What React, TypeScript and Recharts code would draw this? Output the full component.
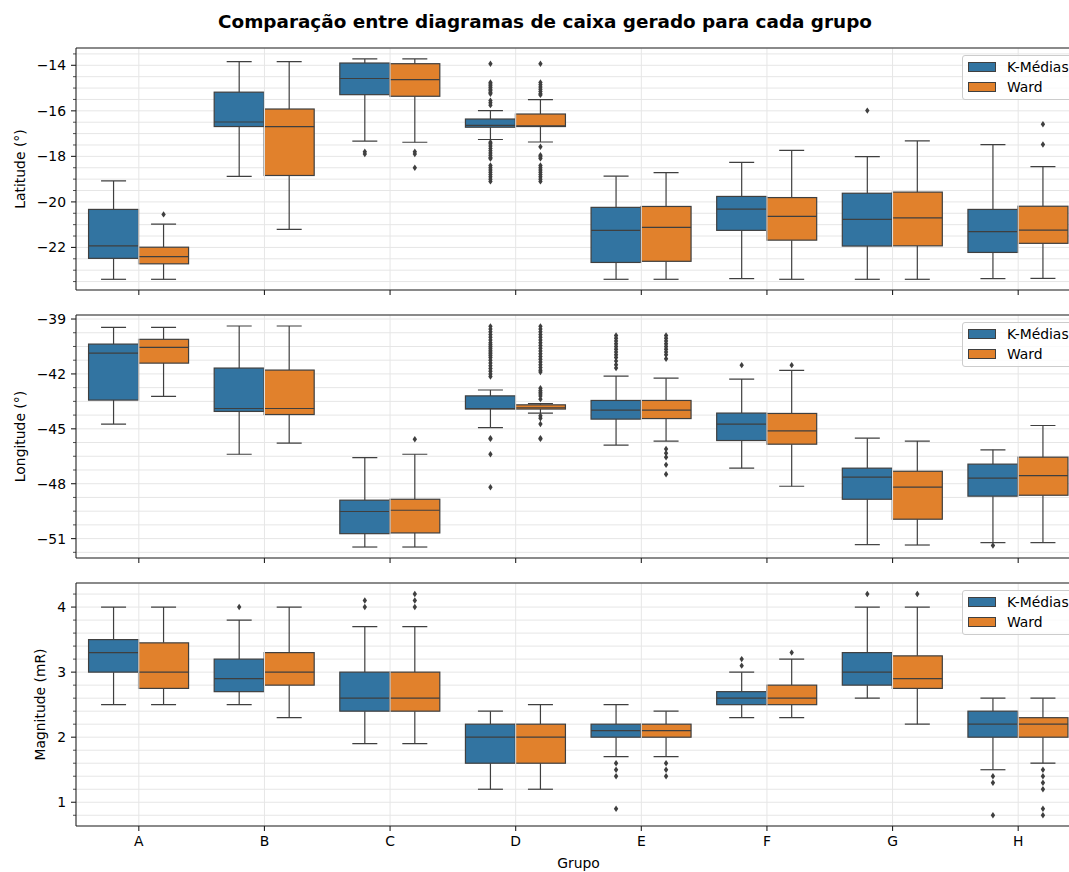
import React from "react";
import { BarChart, Bar, XAxis, YAxis, CartesianGrid, Legend, ReferenceLine } from "recharts";

const grupos = ["A", "B", "C", "D", "E", "F", "G", "H"];

// cada caixa: [bigode inferior, Q1, mediana, Q3, bigode superior]
const latKMedias = [
  [-23.4, -22.48, -21.93, -20.33, -19.08],
  [-18.88, -16.69, -16.49, -15.18, -13.84],
  [-17.33, -15.29, -14.58, -13.9, -13.72],
  [-17.26, -16.72, -16.64, -16.36, -15.99],
  [-23.4, -22.66, -21.25, -20.24, -18.87],
  [-23.37, -21.25, -20.32, -19.76, -18.26],
  [-23.4, -21.94, -20.77, -19.62, -18.01],
  [-23.37, -22.22, -21.31, -20.33, -17.48],
];
const latWard = [
  [-23.4, -22.72, -22.4, -21.99, -20.98],
  [-21.21, -18.84, -16.69, -15.92, -13.84],
  [-17.38, -15.36, -14.63, -13.93, -13.72],
  [-17.37, -16.69, -16.66, -16.14, -15.51],
  [-23.4, -22.61, -21.12, -20.2, -18.71],
  [-23.4, -21.68, -20.64, -19.81, -17.74],
  [-23.4, -21.93, -20.7, -19.57, -17.32],
  [-23.36, -21.82, -21.24, -20.19, -18.45],
];
const latKMediasOut = [
  [],
  [],
  [-17.8, -17.9],
  [-13.93, -14.75, -14.82, -14.9, -14.97, -15.05, -15.12, -15.2, -15.25, -15.55, -15.65, -15.75,
    -17.38, -17.45, -17.55, -17.65, -17.75, -17.85, -17.95, -18.05, -18.1, -18.4, -18.5, -18.6, -18.7, -18.8, -18.9, -19.0, -19.1],
  [],
  [],
  [-15.99],
  [],
];
const latWardOut = [
  [-20.55],
  [],
  [-17.8, -17.9, -18.5],
  [-13.93, -14.75, -14.85, -14.95, -15.05, -15.15, -15.25, -15.3,
    -17.58, -17.95, -18.02, -18.09, -18.4, -18.5, -18.6, -18.7, -18.8, -18.9, -19.0, -19.1],
  [],
  [],
  [],
  [-16.59, -17.48],
];

const lonKMedias = [
  [-44.74, -43.43, -40.86, -40.37, -39.46],
  [-46.39, -44.05, -43.89, -41.68, -39.38],
  [-51.46, -50.73, -49.52, -48.9, -46.57],
  [-44.93, -43.92, -43.89, -43.2, -42.88],
  [-45.89, -44.47, -43.98, -43.45, -42.12],
  [-47.15, -45.64, -44.74, -44.14, -42.28],
  [-51.33, -48.85, -47.64, -47.15, -45.51],
  [-51.22, -48.68, -47.7, -46.93, -46.15],
];
const lonWard = [
  [-43.23, -41.41, -40.55, -40.11, -39.46],
  [-45.78, -44.22, -43.89, -41.79, -39.38],
  [-51.46, -50.69, -49.45, -48.85, -46.39],
  [-44.14, -43.92, -43.85, -43.69, -43.62],
  [-45.67, -44.44, -43.98, -43.45, -42.23],
  [-48.14, -45.84, -45.11, -44.16, -41.81],
  [-51.35, -49.94, -48.19, -47.32, -45.67],
  [-51.22, -48.63, -47.56, -46.55, -44.82],
];
const lonKMediasOut = [
  [],
  [],
  [],
  [-39.4, -39.55, -39.7, -39.85, -40.0, -40.15, -40.3, -40.4, -40.5, -40.6, -40.7, -40.8, -40.9, -41.0, -41.1,
    -41.25, -41.4, -41.55, -41.7, -41.85, -42.0, -42.14, -45.51, -45.55, -46.39, -48.19],
  [-39.9, -40.05, -40.2, -40.35, -40.5, -40.65, -40.8, -40.95, -41.1, -41.3, -41.5, -41.68],
  [-41.52],
  [],
  [-51.38],
];
const lonWardOut = [
  [],
  [],
  [-45.57],
  [-39.4, -39.55, -39.7, -39.85, -40.0, -40.15, -40.3, -40.45, -40.6, -40.75, -40.9, -41.05, -41.2, -41.35,
    -41.5, -41.65, -41.8, -41.9, -42.78, -42.9, -43.0, -43.1, -43.2, -43.38, -44.29, -44.42, -44.74, -45.51, -45.55],
  [-39.9, -40.05, -40.2, -40.35, -40.5, -40.65, -40.8, -40.95, -41.17, -46.1, -46.33, -46.55, -46.97, -47.48],
  [-41.52],
  [],
  [],
];

const magKMedias = [
  [2.5, 3.0, 3.3, 3.5, 4.0],
  [2.5, 2.7, 2.9, 3.2, 3.8],
  [1.9, 2.4, 2.6, 3.0, 3.7],
  [1.2, 1.6, 2.0, 2.2, 2.4],
  [1.7, 2.0, 2.1, 2.2, 2.5],
  [2.3, 2.5, 2.6, 2.7, 3.0],
  [2.6, 2.8, 3.0, 3.3, 4.0],
  [1.5, 2.0, 2.2, 2.4, 2.6],
];
const magWard = [
  [2.5, 2.75, 3.0, 3.45, 4.0],
  [2.3, 2.8, 3.0, 3.3, 4.0],
  [1.9, 2.4, 2.6, 3.0, 3.7],
  [1.2, 1.6, 2.0, 2.2, 2.5],
  [1.7, 2.0, 2.1, 2.2, 2.4],
  [2.3, 2.5, 2.6, 2.8, 3.2],
  [2.2, 2.75, 2.9, 3.25, 4.0],
  [1.6, 2.0, 2.2, 2.3, 2.6],
];
const magKMediasOut = [[], [4.0], [4.0, 4.1], [], [1.6, 1.5, 1.4, 0.9], [3.1, 3.2], [4.2], [1.4, 1.3, 0.8]];
const magWardOut = [[], [], [4.0, 4.1, 4.2], [], [1.6, 1.5, 1.4], [3.3], [4.2], [1.5, 1.4, 1.3, 1.2, 0.9, 0.8]];

// marcas do eixo y (secundárias incluídas) e rótulos principais
const latTicks = [-23.5, -23, -22.5, -22, -21.5, -21, -20.5, -20, -19.5, -19, -18.5, -18, -17.5, -17, -16.5, -16,
  -15.5, -15, -14.5, -14, -13.5];
const latPrincipais = [-22, -20, -18, -16, -14];
const lonTicks = [-51.75, -51, -50.25, -49.5, -48.75, -48, -47.25, -46.5, -45.75, -45, -44.25, -43.5, -42.75, -42,
  -41.25, -40.5, -39.75, -39];
const lonPrincipais = [-51, -48, -45, -42, -39];
const magTicks = [0.8, 1, 1.2, 1.4, 1.6, 1.8, 2, 2.2, 2.4, 2.6, 2.8, 3, 3.2, 3.4, 3.6, 3.8, 4, 4.2];
const magPrincipais = [1, 2, 3, 4];

const FONTE = "DejaVu Sans, Verdana, sans-serif";
const AZUL = "#3274a1";
const LARANJA = "#e1812c";
const LINHA = "#3f3f3f";
const EIXO = "#222222";
const GRADE = "#e6e6e6";

const paineis = [
  { rotulo: "Latitude (°)", rotuloX: 20, topo: 48, base: 290, dominio: [-23.87, -13.24],
    ticks: latTicks, principais: latPrincipais, km: latKMedias, ward: latWard, kmOut: latKMediasOut, wardOut: latWardOut },
  { rotulo: "Longitude (°)", rotuloX: 20, topo: 315, base: 558, dominio: [-52.06, -38.78],
    ticks: lonTicks, principais: lonPrincipais, km: lonKMedias, ward: lonWard, kmOut: lonKMediasOut, wardOut: lonWardOut },
  { rotulo: "Magnitude (mR)", rotuloX: 40, topo: 583, base: 826, dominio: [0.635, 4.37],
    ticks: magTicks, principais: magPrincipais, km: magKMedias, ward: magWard, kmOut: magKMediasOut, wardOut: magWardOut },
];

const fmt = (v: number) => (v < 0 ? "\u2212" + Math.abs(v) : String(v));

function Caixa(props: any) {
  const { x, y, width, height, stats, outliers, fill } = props;
  const [lo, q1, med, q3, hi] = stats;
  const topo = Math.min(y, y + height);
  const h = Math.abs(height);
  const toY = (v: number) => topo + (h * (hi - v)) / (hi - lo);
  const cx = x + width / 2;
  const cap = width / 4;
  const ls = { stroke: LINHA, strokeWidth: 1.2 };
  return (
    <g>
      <line x1={cx} x2={cx} y1={toY(hi)} y2={toY(q3)} {...ls} />
      <line x1={cx} x2={cx} y1={toY(q1)} y2={toY(lo)} {...ls} />
      <line x1={cx - cap} x2={cx + cap} y1={toY(hi)} y2={toY(hi)} {...ls} />
      <line x1={cx - cap} x2={cx + cap} y1={toY(lo)} y2={toY(lo)} {...ls} />
      <rect x={x} y={toY(q3)} width={width} height={toY(q1) - toY(q3)} fill={fill} {...ls} />
      <line x1={x} x2={x + width} y1={toY(med)} y2={toY(med)} {...ls} />
      {outliers.map((v: number, i: number) => {
        const oy = toY(v);
        return (
          <path key={i} d={`M${cx},${oy - 3.2}L${cx + 2.2},${oy}L${cx},${oy + 3.2}L${cx - 2.2},${oy}Z`} fill={LINHA} />
        );
      })}
    </g>
  );
}

function MarcaY(props: any) {
  const { x, y, payload, principais } = props;
  const principal = principais.some((p: number) => Math.abs(p - payload.value) < 1e-6);
  return (
    <g>
      <line x1={x} x2={x - (principal ? 5 : 3)} y1={y} y2={y} stroke={EIXO} strokeWidth={principal ? 1.1 : 0.8} />
      {principal && (
        <text x={x - 10} y={y} textAnchor="end" dominantBaseline="central" fontFamily={FONTE} fontSize={13.9} fill="#000">
          {fmt(payload.value)}
        </text>
      )}
    </g>
  );
}

function Legenda(props: any) {
  const itens = (props.payload || []).map((e: any) => [e.value, e.color]);
  return (
    <div
      style={{
        border: "1px solid #cccccc",
        borderRadius: 3,
        background: "rgba(255,255,255,0.8)",
        padding: "1px 6px 2px 5px",
        width: 124,
        boxSizing: "border-box",
        fontFamily: FONTE,
        fontSize: 13.9,
        color: "#000",
      }}
    >
      {itens.map(([nome, cor]: any) => (
        <div key={nome} style={{ display: "flex", alignItems: "center", height: 20 }}>
          <span
            style={{ width: 28, height: 10, background: cor, border: `1px solid ${LINHA}`, boxSizing: "border-box", marginRight: 11 }}
          />
          <span>{nome}</span>
        </div>
      ))}
    </div>
  );
}

function Painel({ p, ultimo }: any) {
  const dados = grupos.map((g, i) => ({
    grupo: g,
    km: p.km[i],
    ward: p.ward[i],
    kmOut: p.kmOut[i],
    wardOut: p.wardOut[i],
  }));
  const mb = ultimo ? 20 : 10;
  const altura = p.base - p.topo + 10 + 30 + mb;
  return (
    <div style={{ position: "absolute", left: 0, top: p.topo - 10 }}>
      <BarChart
        width={1085}
        height={altura}
        data={dados}
        margin={{ top: 10, right: 4, left: 0, bottom: mb }}
        barCategoryGap="10%"
        barGap={0}
      >
        <CartesianGrid stroke={GRADE} strokeWidth={1} vertical={false} />
        {grupos.map((g) => (
          <ReferenceLine key={g} x={g} stroke={GRADE} strokeWidth={1} />
        ))}
        <XAxis
          dataKey="grupo"
          type="category"
          height={30}
          tickSize={5}
          tickMargin={5}
          tickLine={{ stroke: EIXO, strokeWidth: 1.1 }}
          axisLine={{ stroke: EIXO, strokeWidth: 1.1 }}
          tick={ultimo ? { fontFamily: FONTE, fontSize: 13.9, fill: "#000" } : () => <g />}
          label={
            ultimo
              ? (lp: any) => {
                  const vb = lp.viewBox || {};
                  return (
                    <text x={(vb.x ?? 76) + (vb.width ?? 1005) / 2} y={(vb.y ?? 826) + 37} textAnchor="middle"
                      dominantBaseline="central" fontFamily={FONTE} fontSize={13.9} fill="#000">
                      Grupo
                    </text>
                  );
                }
              : undefined
          }
        />
        <YAxis
          type="number"
          domain={p.dominio}
          ticks={p.ticks}
          interval={0}
          allowDataOverflow
          width={76}
          tickSize={0}
          tickMargin={0}
          tickLine={false}
          axisLine={{ stroke: EIXO, strokeWidth: 1.1 }}
          tick={(tp: any) => <MarcaY {...tp} principais={p.principais} />}
          label={(lp: any) => {
            const vb = lp.viewBox || {};
            const cy = (vb.y ?? 10) + (vb.height ?? 0) / 2;
            return (
              <text x={p.rotuloX} y={cy} transform={`rotate(-90 ${p.rotuloX} ${cy})`} textAnchor="middle"
                dominantBaseline="central" fontFamily={FONTE} fontSize={13.9} fill="#000">
                {p.rotulo}
              </text>
            );
          }}
        />
        <ReferenceLine y={p.dominio[1]} stroke={EIXO} strokeWidth={1.1} />
        <Bar
          name="K-Médias"
          dataKey={(r: any) => [r.km[0], r.km[4]]}
          fill={AZUL}
          isAnimationActive={false}
          shape={(bp: any) => <Caixa {...bp} stats={bp.payload.km} outliers={bp.payload.kmOut} fill={AZUL} />}
        />
        <Bar
          name="Ward"
          dataKey={(r: any) => [r.ward[0], r.ward[4]]}
          fill={LARANJA}
          isAnimationActive={false}
          shape={(bp: any) => <Caixa {...bp} stats={bp.payload.ward} outliers={bp.payload.wardOut} fill={LARANJA} />}
        />
        <Legend
          layout="horizontal"
          verticalAlign="middle"
          align="center"
          wrapperStyle={{ top: 17, left: 962 }}
          content={(lp: any) => <Legenda {...lp} />}
        />
      </BarChart>
    </div>
  );
}

export default function App() {
  return (
    <div
      style={{ position: "absolute", left: 0, top: 0, width: 1069, height: 872, overflow: "hidden", background: "#fff" }}
    >
      <div
        style={{
          position: "absolute",
          left: 545 - 400,
          width: 800,
          top: 11,
          textAlign: "center",
          fontFamily: FONTE,
          fontWeight: "bold",
          fontSize: 18.4,
          lineHeight: "22px",
          color: "#000",
        }}
      >
        Comparação entre diagramas de caixa gerado para cada grupo
      </div>
      {paineis.map((p, i) => (
        <Painel key={i} p={p} ultimo={i === paineis.length - 1} />
      ))}
    </div>
  );
}
